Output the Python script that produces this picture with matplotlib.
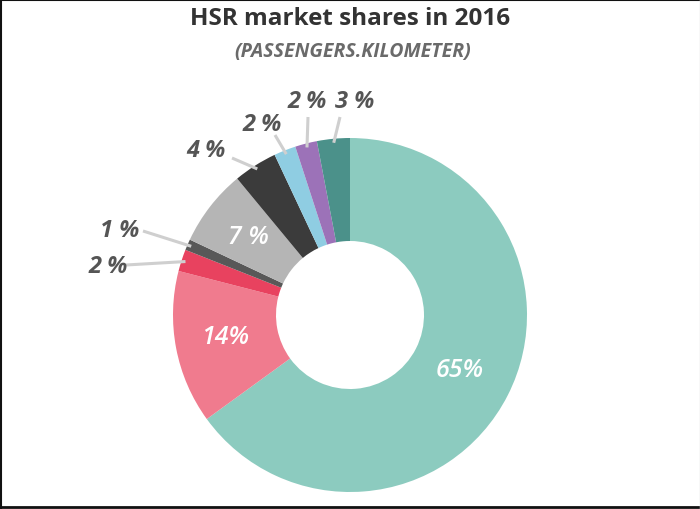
import numpy as np
import matplotlib.pyplot as plt
from matplotlib.lines import Line2D

# data
shares = [65, 14, 2, 1, 7, 4, 2, 2, 3]
labels = ["65%", "14%", "2 %", "1 %", "7 %", "4 %", "2 %", "2 %", "3 %"]
colors = ["#8ccbbf", "#f07b8e", "#e8425f", "#585858", "#b5b5b5",
          "#3b3b3b", "#8fcde2", "#9c72b8", "#4b918a"]
inside = [True, True, False, False, True, False, False, False, False]

title = "HSR market shares in 2016"
subtitle = "(PASSENGERS.KILOMETER)"

# layout (pixel coordinates, y up)
W, H = 700, 510
cx, cy = 350, 510 - 316
R, r = 177, 74
# text position for labels placed outside the ring (image coords)
outText = {2: (108, 267), 3: (120, 231), 5: (206, 151),
           6: (262, 125), 7: (307, 102), 8: (355, 102)}
# end of leader line near text (image coords)
outLine = {2: (126, 266), 3: (143, 232), 5: (232, 159),
           6: (275, 136), 7: (308, 118), 8: (340, 118)}

fig = plt.figure(figsize=(7, 5.1), dpi=100)
ax = fig.add_axes([0, 0, 1, 1])

wedges, _ = ax.pie(
    shares,
    colors=colors,
    startangle=90,
    counterclock=False,
    center=(cx, cy),
    radius=R,
    wedgeprops=dict(width=R - r, linewidth=0),
)
ax.set_xlim(0, W)
ax.set_ylim(0, H)
ax.set_aspect("equal")
ax.axis("off")

for i, w in enumerate(wedges):
    mid = np.deg2rad((w.theta1 + w.theta2) / 2)
    if inside[i]:
        rm = (R + r) / 2
        ax.text(cx + rm * np.cos(mid) - 2, cy + rm * np.sin(mid) + 2, labels[i],
                color="white", fontsize=18, fontstyle="italic",
                fontweight="semibold", family="Open Sans",
                ha="center", va="center")
    else:
        x0 = cx + (R - 4) * np.cos(mid)
        y0 = cy + (R - 4) * np.sin(mid)
        lx, ly = outLine[i]
        ax.add_line(Line2D([x0, lx], [y0, H - ly], color="#cfcfcf",
                           linewidth=2.2, solid_capstyle="butt"))
        tx, ty = outText[i]
        ax.text(tx, H - ty, labels[i], color="#555555", fontsize=17,
                fontstyle="italic", fontweight="bold", family="Open Sans",
                ha="center", va="center")

ax.text(W / 2, H - 19, title, color="#333333", fontsize=17.5,
        fontweight="bold", family="Open Sans", ha="center", va="center")
ax.text(W / 2 + 3, H - 52, subtitle, color="#6a6a6a", fontsize=14,
        fontstyle="italic", fontweight="bold", family="Open Sans",
        ha="center", va="center")

# thin image frame
fig.add_artist(Line2D([0, 1], [0.999, 0.999], transform=fig.transFigure,
                      color="#111111", linewidth=1.5))
fig.add_artist(Line2D([0.0015, 0.0015], [0, 1], transform=fig.transFigure,
                      color="#111111", linewidth=1.5))
fig.add_artist(Line2D([0, 1], [0.004, 0.004], transform=fig.transFigure,
                      color="#111111", linewidth=2))
fig.add_artist(Line2D([0.9993, 0.9993], [0, 1], transform=fig.transFigure,
                      color="#dddddd", linewidth=1))

fig.savefig("out.png", dpi=100)
